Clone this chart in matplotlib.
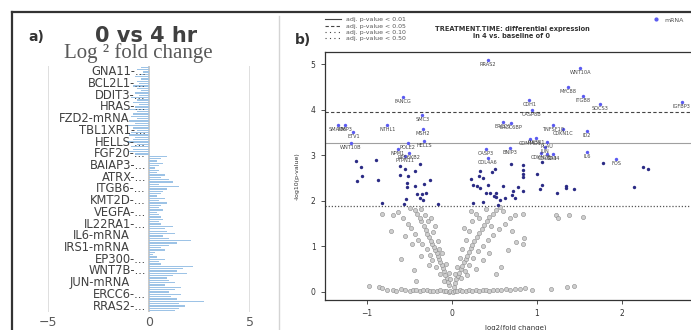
import matplotlib
matplotlib.use("Agg")
import matplotlib.pyplot as plt
from matplotlib.lines import Line2D
import numpy as np

W, H = 691, 330

# ---- panel a data (top to bottom) ----
bar_labels = ["GNA11-...", "BCL2L1-...", "DDIT3-...", "HRAS-...", "FZD2-mRNA", "TBL1XR1-...",
              "HELLS-...", "FGF20-...", "BAIAP3-...", "ATRX-...", "ITGB6-...", "KMT2D-...",
              "VEGFA-...", "IL22RA1-...", "IL6-mRNA", "IRS1-mRNA", "EP300-...", "WNT7B-...",
              "JUN-mRNA", "ERCC6-...", "RRAS2-..."]
neg_vals = [-0.4, -0.6, -0.3, -0.5, -0.7, -0.4, -0.6, -0.5, -0.8, -0.6,
            -0.4, -0.7, -0.5, -0.9, -0.6, -0.8, -0.5, -0.7, -1.0, -0.6,
            -0.8, -0.9, -0.6, -1.0, -0.7, -1.1, -0.8, -0.6, -0.9, -1.0,
            -0.7, -0.8, -1.1, -0.6, -0.9, -0.8, -1.0, -0.7]
pos_vals = [0.9, 0.6, 0.4, 0.7, 0.5, 0.3, 0.5, 0.4, 0.8, 0.6,
            1.0, 1.2, 0.5, 1.5, 0.9, 0.7, 0.6, 0.4, 0.8, 0.5,
            0.9, 0.6, 0.5, 0.7, 0.4, 0.5, 0.6, 0.7, 0.5, 0.6,
            1.2, 0.8, 0.9, 1.3, 0.7, 1.0, 2.1, 1.4, 1.0, 0.6,
            0.8, 0.3, 0.2, 0.4, 0.8, 0.5, 0.6, 2.2, 1.7, 1.4,
            1.9, 1.2, 0.9, 1.0, 1.3, 0.8, 1.6, 1.3, 1.0, 1.6,
            1.1, 1.4, 2.7, 1.5, 1.8, 1.5, 1.3]
bar_vals = neg_vals + pos_vals

# ---- panel b data ----
sig_names = ["RRAS2", "WNT10A", "MYC88", "ITGB8", "FANCG", "CDH1", "SOCS3", "IGFBP3",
             "CASP8B", "SMC3", "SMAD6", "MMP3", "NTHL1", "ETV1", "MSH2", "ERCC6", "ERCC6BP",
             "TNFSF10", "CDKN1C", "ID2", "HELLS", "WNT10B", "POLE2", "NPM1", "RPS6KB2",
             "PTPN11", "COMMD1", "PIK3R1", "PLAU", "JUN", "CASP3", "BNIP3", "COL4A6",
             "CDKN2B", "COL5A3", "CD44", "IL6", "FOS"]
sig_x = [0.42, 1.51, 1.36, 1.54, -0.58, 0.91, 1.74, 2.70,
         0.94, -0.35, -1.34, -1.26, -0.76, -1.16, -0.34, 0.60, 0.69,
         1.19, 1.31, 1.59, -0.33, -1.19, -0.52, -0.64, -0.51,
         -0.55, 0.92, 0.99, 1.12, 1.09, 0.40, 0.68, 0.42,
         1.05, 1.12, 1.19, 1.59, 1.93]
sig_y = [5.10, 4.92, 4.50, 4.31, 4.29, 4.22, 4.13, 4.18,
         4.00, 3.89, 3.67, 3.67, 3.67, 3.51, 3.58, 3.74, 3.72,
         3.67, 3.58, 3.54, 3.32, 3.27, 3.28, 3.14, 3.06,
         2.99, 3.36, 3.38, 3.30, 3.19, 3.14, 3.16, 2.94,
         3.05, 3.03, 3.03, 3.08, 2.92]

mid_x = [-1.13, -0.89, -1.07, -1.12, -1.06, -0.87, -0.82, -0.61, -0.55, -0.61, -0.52,
         -0.44, -0.38, -0.53, -0.53, -0.44, -0.33, -0.26, -0.41, -0.35, -0.31, -0.38,
         -0.34, -0.54, -0.56, -0.16, 0.22, 0.25, 0.29, 0.33, 0.33, 0.32, 0.36, 0.42,
         0.47, 0.51, 0.40, 0.45, 0.52, 0.52, 0.56, 0.62, 0.70, 0.72, 0.60, 0.69, 0.78,
         0.83, 0.74, 0.83, 0.84, 0.84, 0.84, 1.00, 1.06, 1.03, 1.06, 1.23, 1.34, 1.34,
         1.44, 0.36, 0.54, 0.25, 0.49, 1.78, 2.25, 2.31, 2.14]
mid_y = [2.88, 2.90, 2.75, 2.44, 2.55, 2.46, 1.96, 2.77, 2.71, 2.57, 2.55,
         2.66, 2.81, 2.39, 2.31, 2.33, 2.37, 2.46, 2.15, 2.15, 2.17, 2.07,
         2.02, 2.04, 1.93, 1.93, 2.48, 2.35, 2.33, 2.28, 2.66, 2.55, 2.51, 2.35,
         2.64, 2.70, 2.18, 2.17, 2.18, 2.09, 2.02, 2.06, 2.13, 2.22, 2.33, 2.81, 2.31,
         2.22, 2.06, 2.79, 2.68, 2.59, 2.53, 2.59, 2.86, 2.26, 2.35, 2.18, 2.33, 2.28,
         2.26, 1.98, 1.91, 1.96, 2.10, 2.83, 2.75, 2.70, 2.31]

grey_x = [-0.98, -0.86, -0.82, -0.76, -0.70, -0.66, -0.60, -0.55, -0.50, -0.46, -0.42, -0.38,
          -0.34, -0.30, -0.26, -0.22, -0.18, -0.14, -0.10, -0.07, -0.04, -0.02, 0.01, 0.03,
          0.06, 0.09, 0.12, 0.16, 0.20, 0.24, 0.28, 0.32, 0.36, 0.40, 0.44, 0.48, 0.53, 0.58,
          0.63, 0.68, 0.74, 0.80, 0.86, 0.94, 1.16, 1.35, 1.44,
          -0.03, -0.05, -0.06, -0.08, -0.09, -0.11, -0.12, -0.14, -0.15, -0.17, -0.18, -0.20,
          -0.21, -0.23, -0.25, -0.27, -0.29, -0.31, -0.33, -0.36, -0.38, -0.41, -0.44,
          -0.10, -0.14, -0.19, -0.23, -0.26, -0.30, -0.35, -0.40, -0.44, -0.48, -0.52, -0.58,
          -0.64, -0.70, -0.82, -0.72, -0.60, -0.45, -0.42, -0.32, -0.28, -0.22, -0.16, -0.12,
          -0.07, -0.04, -0.50, -0.36, -0.25, -0.47, -0.37, -0.27, -0.55, -0.15, -0.20, -0.02,
          0.02, 0.04, 0.05, 0.07, 0.08, 0.10, 0.12, 0.14, 0.16, 0.18, 0.20, 0.22, 0.24, 0.26,
          0.29, 0.32, 0.35, 0.38, 0.41, 0.44, 0.48, 0.52, 0.56,
          0.10, 0.15, 0.20, 0.25, 0.30, 0.36, 0.42, 0.48, 0.55, 0.62, 0.68, 0.74, 0.84, 0.70,
          0.75, 0.85, 0.84, 0.66, 0.58, 0.52, 0.06, 0.09, 0.12, 0.16, 0.20, 0.24, 0.28, 0.32,
          0.40, 0.60, 0.36, 0.44, 0.18, 0.28, 0.46, 0.14, 0.04, 0.22,
          1.22, 1.25, 1.38, 1.54]
grey_y = [0.13, 0.12, 0.08, 0.04, 0.05, 0.03, 0.06, 0.04, 0.03, 0.05, 0.04, 0.03,
          0.05, 0.04, 0.03, 0.02, 0.03, 0.04, 0.02, 0.03, 0.01, 0.02, 0.01, 0.03,
          0.02, 0.04, 0.03, 0.02, 0.04, 0.03, 0.05, 0.03, 0.04, 0.05, 0.03, 0.04, 0.05, 0.04,
          0.06, 0.05, 0.07, 0.06, 0.08, 0.05, 0.07, 0.10, 0.14,
          0.15, 0.22, 0.30, 0.38, 0.45, 0.52, 0.60, 0.66, 0.72, 0.78, 0.86, 0.92,
          0.99, 1.06, 1.13, 1.20, 1.28, 1.36, 1.45, 1.55, 1.63, 1.72, 1.80,
          0.25, 0.40, 0.55, 0.70, 0.82, 0.95, 1.05, 1.15, 1.28, 1.40, 1.50, 1.62,
          1.75, 1.70, 1.72, 1.35, 0.72, 0.48, 0.25, 1.70, 1.55, 1.32, 1.12, 0.85,
          0.62, 0.42, 1.85, 1.82, 1.62, 1.05, 0.80, 0.60, 1.22, 0.95, 1.45, 0.28,
          0.12, 0.20, 0.28, 0.35, 0.42, 0.50, 0.58, 0.65, 0.72, 0.80, 0.88, 0.96, 1.04, 1.12,
          1.20, 1.30, 1.38, 1.48, 1.56, 1.64, 1.72, 1.80, 1.86,
          0.30, 0.45, 0.60, 0.75, 0.90, 1.02, 1.15, 1.25, 1.38, 1.50, 1.62, 1.70, 1.72, 1.35,
          1.10, 1.18, 1.05, 0.92, 0.55, 0.40, 0.55, 0.75, 0.95, 1.15, 1.35, 1.55, 1.72, 1.62,
          1.82, 1.78, 0.70, 0.85, 0.38, 0.50, 1.45, 1.40, 0.40, 1.78,
          1.70, 1.63, 1.68, 1.65]

fig = plt.figure(figsize=(W / 100, H / 100), dpi=100)


def fx(px):
    return px / W


def fy(py):
    return 1 - py / H


# outer frame and separator
fig.add_artist(Line2D([fx(12), 1], [fy(12), fy(12)], color="#333333", lw=1.6))
fig.add_artist(Line2D([fx(12), fx(12)], [fy(12), 0], color="#333333", lw=1.6))
fig.add_artist(Line2D([fx(279), fx(279)], [fy(16), 0], color="#d4d4d4", lw=1.0))

# ---- panel a ----
ax1 = fig.add_axes([fx(48), 18 / H, 202 / W, 246 / H])
ypos = np.arange(len(bar_vals))
ax1.barh(ypos, bar_vals, height=0.55, color="#9dc3e6", zorder=2)
for g in [-5, 5]:
    ax1.axvline(g, color="#d9d9d9", lw=1.2, zorder=1)
ax1.axvline(0, color="#c8c8c8", lw=1.4, zorder=1)
ax1.set_xlim(-5, 5)
ax1.set_ylim(len(bar_vals) - 0.5, -0.5)
ax1.set_yticks([])
ax1.set_xticks([-5, 0, 5])
ax1.tick_params(axis="x", length=0, pad=3, labelsize=9, labelcolor="#595959")
for s in ax1.spines.values():
    s.set_visible(False)
for i, lab in enumerate(bar_labels):
    xoff = -0.95 if lab.endswith("mRNA") else -0.15
    ax1.text(xoff, 2 + 5 * i, lab, ha="right", va="center", fontsize=8.3,
             color="#404040", zorder=3)

fig.text(fx(28), fy(37), "a)", fontsize=10, fontweight="bold", color="#333333", va="center")
fig.text(fx(146), fy(36), "0 vs 4 hr", fontsize=15, fontweight="bold", color="#404040",
         ha="center", va="center")
fig.text(fx(138), fy(53), "Log \u00b2 fold change", fontsize=15, family="Liberation Serif",
         color="#595959", ha="center", va="center")

# ---- panel b ----
ax2 = fig.add_axes([fx(324.5), 30 / H, (707 - 324.5) / W, 248 / H])
ax2.set_xlim(-1.5, 3.0)
ax2.set_ylim(-0.176, 5.27)
ax2.axhline(3.95, color="#444444", lw=0.8, ls=(0, (3, 2)), zorder=1)
ax2.axhline(3.27, color="#a0a0a0", lw=0.8, zorder=1)
ax2.axhline(1.88, color="#555555", lw=0.9, ls=(0, (1, 1.5)), zorder=1)
ax2.scatter(grey_x, grey_y, s=9, facecolor="#cfcfcf", edgecolor="#8a8a8a", lw=0.4, zorder=2)
ax2.scatter(mid_x, mid_y, s=6, color="#2b2b85", lw=0, zorder=3)
ax2.scatter(sig_x, sig_y, s=6, color="#5a5af0", lw=0, zorder=3)
for n, x, y in zip(sig_names, sig_x, sig_y):
    ax2.annotate(n, (x, y), xytext=(0, -1.5), textcoords="offset points", ha="center",
                 va="top", fontsize=3.6, color="#444444", zorder=4)
ax2.set_xticks([-1, 0, 1, 2])
ax2.set_yticks([0, 1, 2, 3, 4, 5])
ax2.tick_params(labelsize=5.5, labelcolor="#333333", length=3, width=0.6, color="#333333")
for s in ax2.spines.values():
    s.set_color("#333333")
    s.set_linewidth(0.9)
ax2.set_xlabel("log2(fold change)", fontsize=5, color="#333333", labelpad=5)
ax2.set_ylabel("-log10(p-value)", fontsize=4.5, color="#333333", labelpad=8)

fig.text(fx(295), fy(40), "b)", fontsize=10, fontweight="bold", color="#333333", va="center")
fig.text(fx(512), fy(29), "TREATMENT.TIME: differential expression", fontsize=4.8,
         fontweight="bold", color="#333333", ha="center", va="center")
fig.text(fx(512), fy(36), "in 4 vs. baseline of 0", fontsize=4.8,
         fontweight="bold", color="#333333", ha="center", va="center")

handles = [Line2D([], [], color="#444444", lw=0.8),
           Line2D([], [], color="#444444", lw=0.8, ls=(0, (3, 2))),
           Line2D([], [], color="#444444", lw=0.8, ls=(0, (1, 3))),
           Line2D([], [], color="#444444", lw=0.8, ls=(0, (1, 3)))]
leg_labels = ["adj. p-value < 0.01", "adj. p-value < 0.05", "adj. p-value < 0.10",
              "adj. p-value < 0.50"]
fig.legend(handles, leg_labels, loc="upper left", bbox_to_anchor=(fx(322), fy(14)),
           fontsize=4.5, frameon=False, handlelength=2.6, labelspacing=0.15,
           labelcolor="#555555", borderpad=0)
fig.legend([Line2D([], [], ls="", marker="o", ms=2, color="#5a5af0")], ["mRNA"],
           loc="upper left", bbox_to_anchor=(fx(650), fy(14)), fontsize=4.5, frameon=False,
           handlelength=1, labelcolor="#555555", borderpad=0)

fig.savefig("out.png", dpi=100)
